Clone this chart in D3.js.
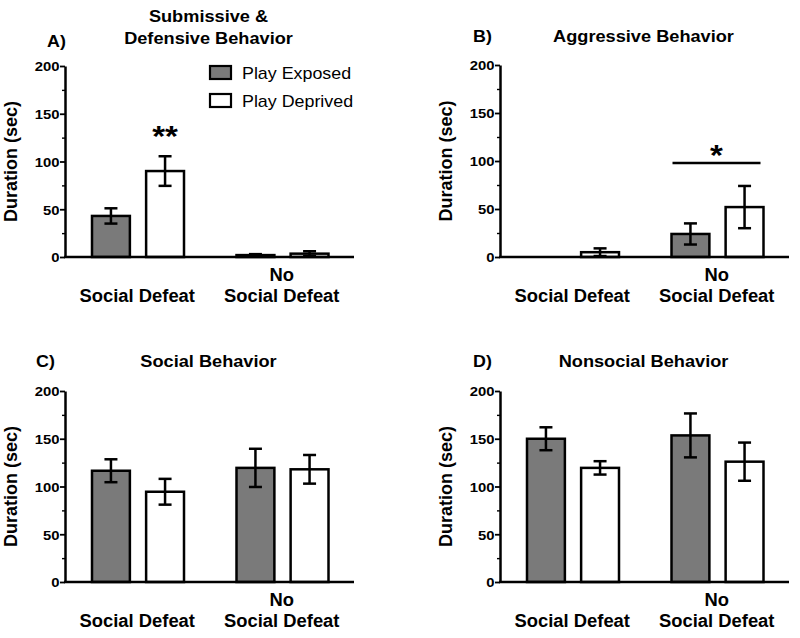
<!DOCTYPE html>
<html><head><meta charset="utf-8">
<script src="https://cdn.jsdelivr.net/npm/d3@7"></script>
<style>
body{margin:0;background:#fff}
svg{display:block}
text{font-family:"Liberation Sans", Arial, Helvetica, sans-serif;fill:#000}
</style>
</head><body><svg id="c" width="800" height="638"></svg>
<script>
// ---------- data ----------
const groups = ["Social Defeat", "No Social Defeat"];
const series = ["Play Exposed", "Play Deprived"];
const yTicks = [0, 50, 100, 150, 200];
const yMinorTicks = [25, 75, 125, 175];
const panelLetters = ["A)", "B)", "C)", "D)"];
const panelTitles = [["Submissive &", "Defensive Behavior"], ["Aggressive Behavior"], ["Social Behavior"], ["Nonsocial Behavior"]];
const yAxisTitle = "Duration (sec)";

const submissiveExposed = [43, 2];
const submissiveExposedSEM = [8, 1];
const submissiveDeprived = [90, 3.5];
const submissiveDeprivedSEM = [15.5, 2.5];

const aggressiveExposed = [0, 24];
const aggressiveExposedSEM = [0, 11];
const aggressiveDeprived = [5, 52];
const aggressiveDeprivedSEM = [4, 22];

const socialExposed = [116.5, 119.5];
const socialExposedSEM = [12, 20];
const socialDeprived = [94.5, 118];
const socialDeprivedSEM = [13.5, 15];

const nonsocialExposed = [150, 153.5];
const nonsocialExposedSEM = [12, 23];
const nonsocialDeprived = [119.5, 126];
const nonsocialDeprivedSEM = [7, 20];

// significance annotations: [panel index, group index, series index or -1 for group line, y value, label]
const sigMarks = [[0, 0, 1, 126, "**"], [1, 1, -1, 98, "*"]];

// ---------- build ----------
const means = [
  [submissiveExposed, submissiveDeprived],
  [aggressiveExposed, aggressiveDeprived],
  [socialExposed, socialDeprived],
  [nonsocialExposed, nonsocialDeprived]
];
const sems = [
  [submissiveExposedSEM, submissiveDeprivedSEM],
  [aggressiveExposedSEM, aggressiveDeprivedSEM],
  [socialExposedSEM, socialDeprivedSEM],
  [nonsocialExposedSEM, nonsocialDeprivedSEM]
];

const layout = [
  {x0: 65,  top: 66,  bottom: 257, letterX: 47,  letterY: 47, titleY: [22, 44]},
  {x0: 500, top: 65,  bottom: 257, letterX: 473, letterY: 42, titleY: [42]},
  {x0: 65,  top: 391, bottom: 582, letterX: 36,  letterY: 367, titleY: [367]},
  {x0: 500, top: 391, bottom: 582, letterX: 473, letterY: 367, titleY: [367]}
];
const plotW = 289;
const fills = {"Play Exposed": "#7a7a7a", "Play Deprived": "#ffffff"};
const SW = 2.5;

const svg = d3.select("#c");

function stext(g, x, y, str, size, anchor, weight, sx) {
  return g.append("text")
    .attr("transform", `translate(${x},${y}) scale(${sx},1)`)
    .attr("text-anchor", anchor || "middle")
    .attr("font-size", size)
    .attr("font-weight", weight || "bold")
    .text(str);
}

layout.forEach((L, p) => {
  const g = svg.append("g").attr("transform", `translate(${L.x0},0)`);
  const y = d3.scaleLinear().domain([0, 200]).range([L.bottom, L.top]);
  const xg = d3.scaleBand().domain(groups).range([0, plotW]).paddingInner(0).paddingOuter(0);
  const xs = d3.scaleBand().domain(series).range([27, 119]).paddingInner(0.3).paddingOuter(0);

  // bars
  groups.forEach((grp, gi) => {
    series.forEach((s, si) => {
      const v = means[p][si][gi], e = sems[p][si][gi];
      if (v <= 0) return;
      const bx = xg(grp) + xs(s);
      const bw = xs.bandwidth();
      g.append("rect")
        .attr("x", bx).attr("y", y(v))
        .attr("width", bw).attr("height", y(0) - y(v))
        .attr("fill", fills[s]).attr("stroke", "#000").attr("stroke-width", SW);
      if (e > 0) {
        const cx = bx + bw / 2, cw = 6.5;
        const lo = Math.max(0, v - e), hi = v + e;
        g.append("line").attr("x1", cx).attr("x2", cx).attr("y1", y(lo)).attr("y2", y(hi))
          .attr("stroke", "#000").attr("stroke-width", SW);
        [lo, hi].forEach(t => g.append("line").attr("x1", cx - cw).attr("x2", cx + cw)
          .attr("y1", y(t)).attr("y2", y(t)).attr("stroke", "#000").attr("stroke-width", SW));
      }
    });
  });

  // y axis (major)
  const ax = g.append("g").call(d3.axisLeft(y).tickValues(yTicks).tickSize(5).tickSizeOuter(0));
  ax.select(".domain").attr("stroke-width", SW);
  ax.selectAll(".tick line").attr("stroke-width", 1.8);
  ax.selectAll(".tick text")
    .attr("font-size", 13.5).attr("font-weight", "bold")
    .attr("x", -5).attr("dy", "0.36em")
    .attr("transform", "scale(1.1,1)")
    .style("font-family", '"Liberation Sans", Arial, sans-serif').attr("fill", "#000");
  // minor ticks
  const mx = g.append("g").call(d3.axisLeft(y).tickValues(yMinorTicks).tickSize(3).tickFormat(""));
  mx.select(".domain").remove();
  mx.selectAll(".tick line").attr("stroke-width", 1.4);

  // x axis line
  g.append("line").attr("x1", -1).attr("x2", plotW).attr("y1", y(0)).attr("y2", y(0))
    .attr("stroke", "#000").attr("stroke-width", SW);

  // x labels
  const c0 = xg(groups[0]) + xg.bandwidth() / 2;
  const c1 = xg(groups[1]) + xg.bandwidth() / 2;
  stext(g, c0, y(0) + 45, "Social Defeat", 17.5, "middle", "bold", 1.05);
  stext(g, c1, y(0) + 24, "No", 17.5, "middle", "bold", 1.05);
  stext(g, c1, y(0) + 45, "Social Defeat", 17.5, "middle", "bold", 1.05);

  // y title
  g.append("text")
    .attr("transform", `translate(-48,${(L.top + L.bottom) / 2}) rotate(-90)`)
    .attr("text-anchor", "middle").attr("font-size", 18).attr("font-weight", "bold")
    .text(yAxisTitle);

  // titles
  panelTitles[p].forEach((t, i) => stext(g, plotW / 2 - 1, L.titleY[i], t, 17, "middle", "bold", 1.07));
  stext(svg, L.letterX, L.letterY, panelLetters[p], 17, "start", "bold", 1.05);

  // legend (panel A only)
  if (p === 0) {
    series.forEach((s, si) => {
      const ly = L.top + si * 28;
      g.append("rect").attr("x", 145).attr("y", ly).attr("width", 21).attr("height", 13)
        .attr("fill", fills[s]).attr("stroke", "#000").attr("stroke-width", 2.2);
      stext(g, 177, ly + 12.5, s, 17, "start", "normal", 1.05);
    });
  }

  // significance
  sigMarks.filter(m => m[0] === p).forEach(m => {
    const gi = m[1], si = m[2], yv = m[3];
    const grp = groups[gi];
    let cx;
    if (si >= 0) {
      cx = xg(grp) + xs(series[si]) + xs.bandwidth() / 2;
    } else {
      const xa = xg(grp) + xs(series[0]) + 1;
      const xb = xg(grp) + xs(series[1]) + xs.bandwidth() - 3;
      cx = (xa + xb) / 2;
      g.append("line").attr("x1", xa).attr("x2", xb).attr("y1", y(yv)).attr("y2", y(yv))
        .attr("stroke", "#000").attr("stroke-width", SW);
    }
    const base = si >= 0 ? y(yv) + 9 : y(yv) + 2;
    stext(g, cx, base, m[4], 30, "middle", "bold", 1.1);
  });
});
</script>
</body></html>
